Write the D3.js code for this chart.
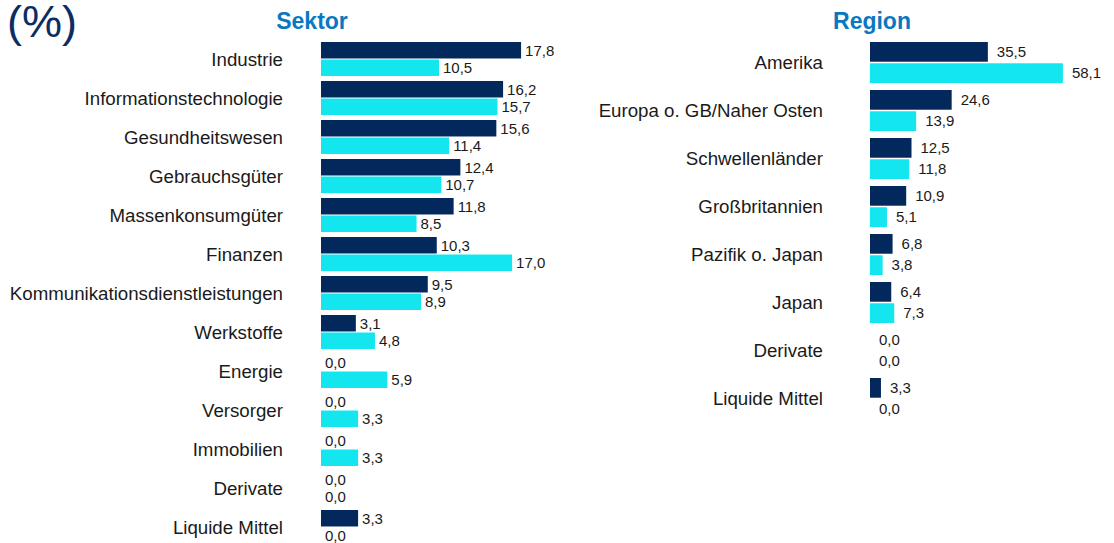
<!DOCTYPE html>
<html>
<head>
<meta charset="utf-8">
<script src="https://cdn.jsdelivr.net/npm/d3@7"></script>
<style>
  body { margin: 0; background: #fff; }
  text { font-family: Arial, "Liberation Sans", sans-serif; }
</style>
</head>
<body>
<svg id="chart" width="1114" height="543"></svg>
<script>
// Sektor allocation (%)
const sectorNames = ["Industrie", "Informationstechnologie", "Gesundheitswesen", "Gebrauchsgüter",
    "Massenkonsumgüter", "Finanzen", "Kommunikationsdienstleistungen", "Werkstoffe", "Energie",
    "Versorger", "Immobilien", "Derivate", "Liquide Mittel"];
const sectorFund = [17.8, 16.2, 15.6, 12.4, 11.8, 10.3, 9.5, 3.1, 0.0, 0.0, 0.0, 0.0, 3.3];
const sectorIndex = [10.5, 15.7, 11.4, 10.7, 8.5, 17.0, 8.9, 4.8, 5.9, 3.3, 3.3, 0.0, 0.0];

// Region allocation (%)
const regionNames = ["Amerika", "Europa o. GB/Naher Osten", "Schwellenländer", "Großbritannien",
    "Pazifik o. Japan", "Japan", "Derivate", "Liquide Mittel"];
const regionFund = [35.5, 24.6, 12.5, 10.9, 6.8, 6.4, 0.0, 3.3];
const regionIndex = [58.1, 13.9, 11.8, 5.1, 3.8, 7.3, 0.0, 0.0];

const seriesKeys = ["fund", "index"];
const navy = "#03295c";
const cyan = "#14e6f0";
const titleBlue = "#0a78c0";
const fmt = v => d3.format(".1f")(v).replace(".", ",");

const svg = d3.select("#chart");

svg.append("text")
    .attr("x", 7)
    .attr("y", 37)
    .style("font-size", "45px")
    .style("fill", "#0b2d63")
    .text("(%)");

function drawPanel(opts) {
    const { names, fund, index, title, titleX, labelX, x0, pxPerUnit, maxVal,
            top, step, bandH, barGap, valueOffset } = opts;

    const rows = names.map((n, i) => ({ name: n, fund: fund[i], index: index[i] }));

    const x = d3.scaleLinear()
        .domain([0, maxVal])
        .range([x0, x0 + maxVal * pxPerUnit]);

    const pad = (step - bandH) / step;
    const y = d3.scaleBand()
        .domain(names)
        .range([top, top + step * (names.length - pad)])
        .paddingInner(pad)
        .paddingOuter(0);

    const barH = (bandH - barGap) / 2;
    const yInner = d3.scaleBand()
        .domain(seriesKeys)
        .range([0, bandH])
        .paddingInner(barGap / (barH + barGap / 2) / 2)
        .paddingOuter(0);

    const g = svg.append("g");

    g.append("text")
        .attr("x", titleX)
        .attr("y", 29)
        .attr("text-anchor", "middle")
        .style("font-size", "23px")
        .style("font-weight", "bold")
        .style("fill", titleBlue)
        .text(title);

    const groups = g.selectAll("g.row")
        .data(rows)
        .join("g")
        .attr("class", "row")
        .attr("transform", d => `translate(0,${y(d.name)})`);

    groups.append("text")
        .attr("x", labelX)
        .attr("y", y.bandwidth() / 2)
        .attr("text-anchor", "end")
        .attr("dy", "0.35em")
        .style("font-size", "18.7px")
        .style("fill", "#1a1a1a")
        .text(d => d.name);

    const bars = groups.selectAll("g.bar")
        .data(d => seriesKeys.map(k => ({ key: k, value: d[k] })))
        .join("g")
        .attr("class", "bar");

    bars.append("rect")
        .attr("x", x(0))
        .attr("y", d => yInner(d.key))
        .attr("width", d => x(d.value) - x(0))
        .attr("height", yInner.bandwidth())
        .attr("fill", d => d.key === "fund" ? navy : cyan);

    bars.append("text")
        .attr("x", d => x(d.value) + valueOffset)
        .attr("y", d => yInner(d.key) + yInner.bandwidth() / 2)
        .attr("dy", "0.35em")
        .style("font-size", "15px")
        .style("fill", "#1a1a1a")
        .text(d => fmt(d.value));
}

drawPanel({
    names: sectorNames, fund: sectorFund, index: sectorIndex,
    title: "Sektor", titleX: 312, labelX: 283,
    x0: 321, pxPerUnit: 11.24, maxVal: 20,
    top: 42, step: 39, bandH: 34, barGap: 2, valueOffset: 4
});

drawPanel({
    names: regionNames, fund: regionFund, index: regionIndex,
    title: "Region", titleX: 872, labelX: 823,
    x0: 870, pxPerUnit: 3.32, maxVal: 60,
    top: 42, step: 48, bandH: 41, barGap: 3, valueOffset: 9
});
</script>
</body>
</html>
